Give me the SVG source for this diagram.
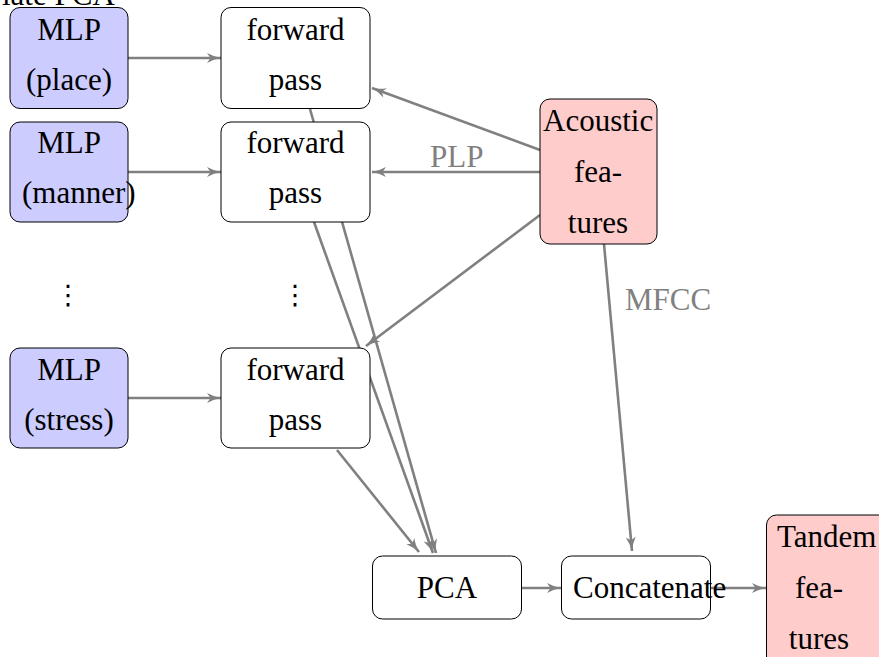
<svg xmlns="http://www.w3.org/2000/svg" width="879" height="657" viewBox="0 0 879 657">
  <style>
    .t { font-family: 'Liberation Serif', 'DejaVu Serif', 'Times New Roman', serif; font-size: 31px; fill: #000; }
    .c { text-anchor: middle; }
    .lbl { font-family: 'Liberation Serif', 'DejaVu Serif', 'Times New Roman', serif; font-size: 31px; fill: #808080; }
    .mlp { fill: #ccccff; stroke: #000; stroke-width: 1; }
    .acu { fill: #ffcccc; stroke: #000; stroke-width: 1; }
    .box { fill: #fff; stroke: #000; stroke-width: 1; }
    .edge { stroke: #808080; stroke-width: 2.6; fill: none; marker-end: url(#arr); }
    .dots { font-family: 'DejaVu Sans', sans-serif; font-size: 27px; text-anchor: middle; }
  </style>
  <defs>
    <marker id="arr" markerUnits="userSpaceOnUse" markerWidth="16" markerHeight="12" viewBox="-1 -6 16 12" refX="14" refY="0" orient="auto">
      <path d="M0,-5 Q7,-1.2 14,0 Q7,1.2 0,5 L3.5,0 Z" fill="#808080"/>
    </marker>
  </defs>
  <rect width="879" height="657" fill="#fff"/>

  <!-- partially visible caption at the top edge -->
  <text class="t" x="2" y="5">late PCA</text>

  <!-- connectors -->
  <g id="edges">
    <line class="edge" x1="128" y1="58" x2="221" y2="58"/>
    <line class="edge" x1="128" y1="172" x2="221" y2="172"/>
    <line class="edge" x1="128" y1="398" x2="221" y2="398"/>
    <line class="edge" x1="540" y1="150" x2="372" y2="88"/>
    <line class="edge" x1="540" y1="172" x2="372" y2="172"/>
    <line class="edge" x1="540" y1="215" x2="366" y2="346"/>
    <line class="edge" x1="310" y1="109" x2="436" y2="553"/>
    <line class="edge" x1="314" y1="222" x2="433" y2="553"/>
    <line class="edge" x1="337" y1="450" x2="419" y2="552"/>
    <line class="edge" x1="604" y1="244" x2="632" y2="551"/>
    <line class="edge" x1="521" y1="588" x2="561" y2="588"/>
    <line class="edge" x1="710" y1="588" x2="766" y2="588"/>
    <text class="lbl" x="430" y="167">PLP</text>
    <text class="lbl" x="625" y="310">MFCC</text>
  </g>

  <!-- MLP column -->
  <g id="mlp-place">
    <rect class="mlp" x="10" y="7.5" width="118" height="101" rx="10"/>
    <text class="t c" x="69" y="40">MLP</text>
    <text class="t c" x="69" y="90">(place)</text>
  </g>
  <g id="mlp-manner">
    <rect class="mlp" x="10" y="122" width="118" height="100" rx="10"/>
    <text class="t c" x="69" y="153">MLP</text>
    <text class="t" x="22" y="203">(manner)</text>
  </g>
  <text class="dots" x="68" y="304">⋮</text>
  <g id="mlp-stress">
    <rect class="mlp" x="10" y="348" width="118" height="100" rx="10"/>
    <text class="t c" x="69" y="380">MLP</text>
    <text class="t c" x="69" y="430">(stress)</text>
  </g>

  <!-- forward pass column -->
  <g id="fp-1">
    <rect class="box" x="221" y="7.5" width="149" height="101" rx="10"/>
    <text class="t c" x="295.5" y="40">forward</text>
    <text class="t c" x="295.5" y="90">pass</text>
  </g>
  <g id="fp-2">
    <rect class="box" x="221" y="122" width="149" height="100" rx="10"/>
    <text class="t c" x="295.5" y="153">forward</text>
    <text class="t c" x="295.5" y="203">pass</text>
  </g>
  <text class="dots" x="295" y="304">⋮</text>
  <g id="fp-3">
    <rect class="box" x="221" y="348" width="149" height="100" rx="10"/>
    <text class="t c" x="295.5" y="380">forward</text>
    <text class="t c" x="295.5" y="430">pass</text>
  </g>

  <!-- acoustic features -->
  <g id="acoustic">
    <rect class="acu" x="540" y="99" width="117" height="145" rx="10"/>
    <text class="t" x="543" y="131">Acoustic</text>
    <text class="t c" x="598" y="182">fea-</text>
    <text class="t c" x="598" y="233">tures</text>
  </g>

  <!-- bottom row -->
  <g id="pca">
    <rect class="box" x="372.5" y="556" width="149" height="63" rx="10"/>
    <text class="t c" x="447" y="598">PCA</text>
  </g>
  <g id="concat">
    <rect class="box" x="561.5" y="556" width="149" height="63" rx="10"/>
    <text class="t" x="573" y="598">Concatenate</text>
  </g>
  <g id="tandem">
    <rect class="acu" x="766.5" y="515" width="130" height="160" rx="10"/>
    <text class="t" x="777" y="547">Tandem</text>
    <text class="t c" x="819" y="598">fea-</text>
    <text class="t c" x="819" y="649">tures</text>
  </g>
</svg>
